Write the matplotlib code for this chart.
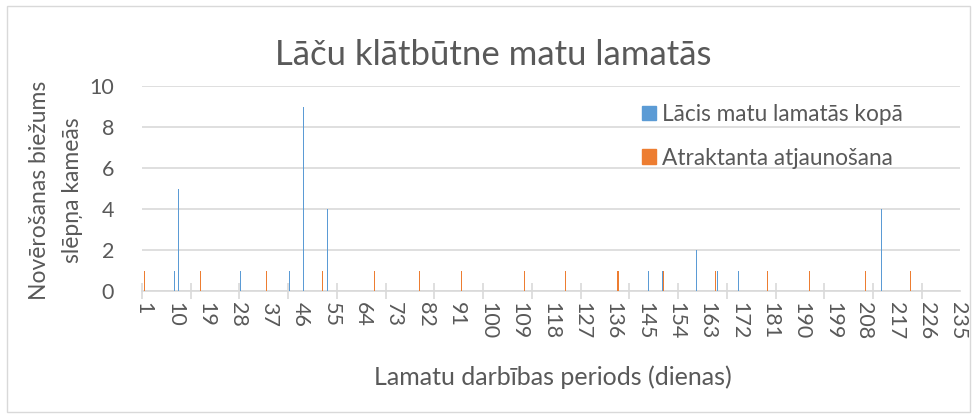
import numpy as np
import matplotlib.pyplot as plt
from matplotlib.patches import Rectangle, Patch

plt.rcParams['font.family'] = ['Lato', 'DejaVu Sans']

# day index 1..235, only non-zero values listed
n_days = 235
bear_days = [10, 11, 29, 43, 47, 54, 146, 150, 160, 166, 172, 213]
bear_counts = [1, 5, 1, 1, 9, 4, 1, 1, 2, 1, 1, 4]
lure_days = [1, 17, 36, 52, 67, 80, 92, 110, 122, 137, 150, 165, 180, 192, 208, 221]
lure_counts = [1] * len(lure_days)

series_names = ["Lācis matu lamatās kopā", "Atraktanta atjaunošana"]
title = "Lāču klātbūtne matu lamatās"
xlabel = "Lamatu darbības periods (dienas)"
ylabel = "Novērošanas biežums\nslēpņa kameās"

days = np.arange(1, n_days + 1)
bear = np.zeros(n_days)
lure = np.zeros(n_days)
bear[np.array(bear_days) - 1] = bear_counts
lure[np.array(lure_days) - 1] = lure_counts

blue = '#5B9BD5'
orange = '#ED7D31'
grey_txt = '#595959'
grid_c = '#D9D9D9'

fig = plt.figure(figsize=(9.77, 4.16), dpi=100)
ax = fig.add_axes([142 / 977, 1 - 291 / 416, (960 - 142) / 977, (291 - 86) / 416])

w = 0.3
ax.bar(days - 0.1, bear, width=w, color=blue, linewidth=0, zorder=3)
ax.bar(days + 0.25, lure, width=w, color=orange, linewidth=0, zorder=3)

ax.set_xlim(0.5, n_days + 0.5)
ax.set_ylim(0, 10)
ax.set_yticks(range(0, 11, 2))
ax.yaxis.grid(True, color=grid_c, linewidth=1.2, zorder=0)
ax.set_axisbelow(True)

ax.set_xticks(days[::9])
ax.set_xticklabels([str(d) for d in days[::9]], rotation=-90)
ax.set_xticks(np.arange(0.5, n_days + 1, 14), minor=True)
ax.tick_params(axis='x', which='major', length=0, pad=8, labelsize=15.5, labelcolor=grey_txt)
ax.tick_params(axis='x', which='minor', direction='inout', length=12, width=1.2, color=grid_c)
ax.tick_params(axis='y', length=0, pad=20, labelsize=15.5, labelcolor=grey_txt)

for s in ['top', 'right', 'left']:
    ax.spines[s].set_visible(False)
ax.spines['bottom'].set_color(grid_c)
ax.spines['bottom'].set_linewidth(1.2)

fig.text(493 / 977, 1 - 55 / 416, title, ha='center', va='center', fontsize=25, color=grey_txt)
fig.text(553 / 977, 1 - 377 / 416, xlabel, ha='center', va='center', fontsize=18, color=grey_txt)
fig.text(56 / 977, 1 - 190 / 416, ylabel, ha='center', va='center', rotation=90,
         fontsize=16.5, color=grey_txt, linespacing=1.65)

handles = [Patch(color=blue, label=series_names[0]), Patch(color=orange, label=series_names[1])]
fig.legend(handles=handles, loc='upper left', bbox_to_anchor=(642 / 977, 1 - 104 / 416),
           frameon=False, fontsize=16.3, labelcolor=grey_txt, handlelength=0.6,
           handleheight=0.6, handletextpad=0.3, labelspacing=1.0,
           borderpad=0, borderaxespad=0)

fig.patches.append(Rectangle((7 / 977, 4 / 416), 963 / 977, 406 / 416, transform=fig.transFigure,
                             fill=False, edgecolor=grid_c, linewidth=1))

fig.savefig('out.png', dpi=100)
